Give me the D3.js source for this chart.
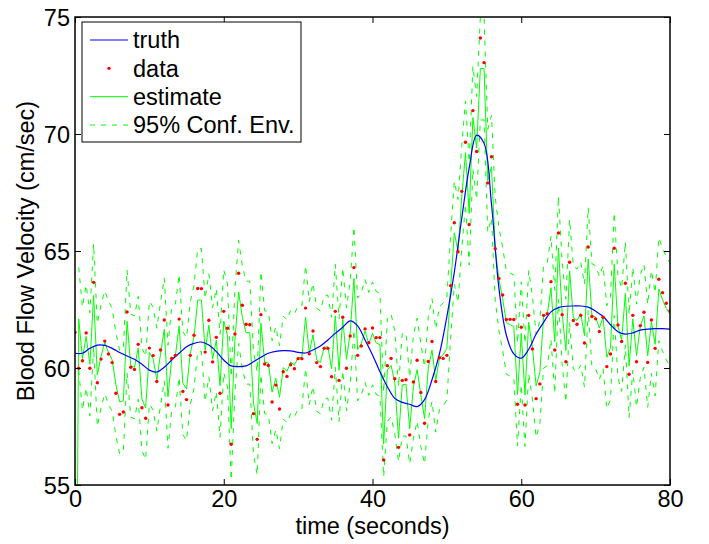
<!DOCTYPE html>
<html lang="en">
<head>
<meta charset="UTF-8">
<title>Blood flow velocity</title>
<script src="https://d3js.org/d3.v7.min.js"></script>
<style>
  body { margin: 0; background: #fff; }
  text { font-family: "Liberation Sans", Arial, Helvetica, sans-serif; fill: #000; }
</style>
</head>
<body>
<div id="chart"></div>
<script>
// samples every 0.5 s, truth every 1 s
var sampleTimes = d3.range(0, 80.5, 0.5)
var truthTimes = d3.range(0, 81, 1)

var truth = [60.63,60.63,60.84,60.98,60.97,60.84,60.66,60.51,60.37,60.16,
  59.91,59.83,60.03,60.34,60.63,60.91,61.05,61.11,60.98,60.70,
  60.34,60.09,60.06,60.09,60.27,60.46,60.63,60.71,60.74,60.73,
  60.67,60.64,60.77,60.94,61.20,61.48,61.74,62.01,61.80,61.20,
  60.56,59.84,59.20,58.70,58.53,58.45,58.35,58.65,59.50,60.60,
  62.20,64.10,66.40,68.55,69.95,69.60,67.00,63.40,61.40,60.60,
  60.42,60.80,61.45,61.95,62.40,62.58,62.64,62.65,62.65,62.60,
  62.43,62.20,61.85,61.55,61.45,61.50,61.62,61.66,61.68,61.68,61.66]

var measured = [61.53,59.99,60.31,61.50,59.99,63.66,59.37,60.38,61.15,60.60,
  60.23,58.92,58.02,58.12,62.39,60.03,59.94,61.01,58.30,57.85,
  60.85,60.53,59.42,60.77,62.05,58.42,60.41,60.54,62.09,59.00,
  58.65,60.54,61.40,63.40,63.39,60.68,62.04,60.26,61.31,58.92,
  62.42,61.70,56.74,61.45,64.05,62.68,61.87,61.85,58.05,56.95,
  62.28,60.17,60.11,58.55,59.27,58.25,59.84,59.64,60.14,59.97,
  60.40,60.40,62.56,60.61,61.58,60.23,60.06,60.84,60.84,59.63,
  62.42,59.47,62.17,59.99,61.37,64.29,60.54,60.94,61.67,61.08,
  61.71,61.30,61.30,56.07,60.10,60.41,59.54,56.61,59.47,59.50,
  57.14,59.40,60.33,58.95,57.64,60.28,61.13,59.42,60.44,60.41,
  60.54,63.52,66.21,64.97,67.55,69.65,66.13,71.00,69.25,74.10,
  73.05,67.91,69.03,65.10,63.83,63.12,62.07,62.08,62.07,58.45,
  61.74,58.42,62.25,60.81,58.69,59.32,62.25,62.32,63.69,60.77,
  65.77,62.28,60.27,64.52,62.03,61.87,62.25,61.07,65.17,62.20,
  62.10,61.56,62.17,60.06,60.60,65.12,61.84,61.13,63.62,59.73,
  62.25,60.27,61.81,62.38,60.24,62.05,60.84,63.79,63.22,62.77,62.45]

var estimate = [40.00,62.10,60.40,61.35,60.16,63.10,59.70,60.50,61.10,60.66,
  60.35,59.29,58.55,58.60,61.99,60.10,60.03,60.86,58.67,58.29,
  60.66,60.40,59.50,60.60,61.65,58.77,60.40,60.53,61.80,59.35,
  59.10,60.63,61.33,62.90,62.90,60.76,61.83,60.38,61.19,59.24,
  62.00,61.40,57.41,61.17,63.25,62.16,61.51,61.51,58.50,57.63,
  61.92,60.25,60.21,58.97,59.56,58.75,60.02,59.86,60.26,60.12,
  60.45,60.45,62.18,60.63,61.42,60.35,60.24,60.89,60.91,59.97,
  62.23,59.90,62.08,60.37,61.50,63.83,60.79,61.05,61.58,61.03,
  61.48,61.07,61.00,56.75,59.92,60.11,59.37,57.00,59.28,59.30,
  57.40,59.20,59.93,58.84,57.84,60.00,60.77,59.46,60.42,60.57,
  60.84,63.43,65.78,65.00,67.30,69.20,66.60,70.70,69.40,72.80,
  72.80,68.00,68.60,65.10,63.80,62.96,61.94,61.85,61.78,58.86,
  61.48,58.85,61.96,60.87,59.24,59.80,62.19,62.30,63.43,61.12,
  65.13,62.35,60.74,64.15,62.15,62.03,62.33,61.38,64.66,62.26,
  62.17,61.71,62.17,60.46,60.85,64.44,61.78,61.20,63.19,60.08,
  62.10,60.53,61.77,62.23,60.52,61.97,61.01,63.37,62.91,62.55,62.29]

var envUpper = [null,64.30,62.60,63.55,62.36,65.30,61.90,62.70,63.30,62.86,
  62.55,61.49,60.75,60.80,64.19,62.30,62.23,63.06,60.87,60.49,
  62.86,62.60,61.70,62.80,63.85,60.97,62.60,62.73,64.00,61.55,
  61.30,62.83,63.53,65.10,65.10,62.96,64.03,62.58,63.39,61.44,
  64.20,63.60,59.61,63.37,65.45,64.36,63.71,63.71,60.70,59.83,
  64.12,62.45,62.41,61.17,61.76,60.95,62.22,62.06,62.46,62.32,
  62.65,62.65,64.38,62.83,63.62,62.55,62.44,63.09,63.11,62.17,
  64.43,62.10,64.28,62.57,63.70,66.03,62.99,63.25,63.78,63.23,
  63.68,63.27,63.20,58.95,62.12,62.31,61.57,59.20,61.48,61.50,
  59.60,61.40,62.13,61.04,60.04,62.20,62.97,61.66,62.62,62.77,
  63.04,65.63,67.98,67.20,69.50,71.40,68.80,72.90,71.60,75.00,
  75.00,70.20,70.80,67.30,66.00,65.16,64.14,64.05,63.98,61.06,
  63.68,61.05,64.16,63.07,61.44,62.00,64.39,64.50,65.63,63.32,
  67.33,64.55,62.94,66.35,64.35,64.23,64.53,63.58,66.86,64.46,
  64.37,63.91,64.37,62.66,63.05,66.64,63.98,63.40,65.39,62.28,
  64.30,62.73,63.97,64.43,62.72,64.17,63.21,65.57,65.11,64.75,64.49]

var envLower = [null,59.90,58.20,59.15,57.96,60.90,57.50,58.30,58.90,58.46,
  58.15,57.09,56.35,56.40,59.79,57.90,57.83,58.66,56.47,56.09,
  58.46,58.20,57.30,58.40,59.45,56.57,58.20,58.33,59.60,57.15,
  56.90,58.43,59.13,60.70,60.70,58.56,59.63,58.18,58.99,57.04,
  59.80,59.20,55.21,58.97,61.05,59.96,59.31,59.31,56.30,55.43,
  59.72,58.05,58.01,56.77,57.36,56.55,57.82,57.66,58.06,57.92,
  58.25,58.25,59.98,58.43,59.22,58.15,58.04,58.69,58.71,57.77,
  60.03,57.70,59.88,58.17,59.30,61.63,58.59,58.85,59.38,58.83,
  59.28,58.87,58.80,55.35,57.72,57.91,57.17,56.00,57.08,57.10,
  55.90,57.00,57.73,56.64,55.90,57.80,58.57,57.26,58.22,58.37,
  58.64,61.23,63.58,62.80,65.10,67.00,64.40,68.50,67.20,70.60,
  70.60,65.80,66.40,62.90,61.60,60.76,59.74,59.65,59.58,56.66,
  59.28,56.65,59.76,58.67,57.04,57.60,59.99,60.10,61.23,58.92,
  62.93,60.15,58.54,61.95,59.95,59.83,60.13,59.18,62.46,60.06,
  59.97,59.51,59.97,58.26,58.65,62.24,59.58,59.00,60.99,57.88,
  59.90,58.33,59.57,60.03,58.32,59.77,58.81,61.17,60.71,60.35,60.09]

var xTicks = [0, 20, 40, 60, 80]
var yTicks = [55, 60, 65, 70, 75]
var legendLabels = ["truth", "data", "estimate", "95% Conf. Env."]

var width = 709, height = 544
var margin = {left: 75, right: 39, top: 17, bottom: 59}
var fontSize = 23.5

var svg = d3.select("#chart").append("svg")
    .attr("width", width)
    .attr("height", height)

var x = d3.scaleLinear().domain([0, 80]).range([margin.left, width - margin.right])
var y = d3.scaleLinear().domain([55, 75]).range([height - margin.bottom, margin.top])

svg.append("clipPath").attr("id", "plot-clip")
  .append("rect")
    .attr("x", x(0)).attr("y", y(75))
    .attr("width", x(80) - x(0)).attr("height", y(55) - y(75))

var plot = svg.append("g").attr("clip-path", "url(#plot-clip)")

var sampleLine = function(values) {
  return d3.line()
    .defined(function(d, i) { return values[i] != null })
    .x(function(d, i) { return x(sampleTimes[i]) })
    .y(function(d, i) { return y(values[i]) })(sampleTimes)
}

// estimate
plot.append("path")
    .attr("d", sampleLine(estimate))
    .attr("fill", "none")
    .attr("stroke", "#00ff00")
    .attr("stroke-width", 1)

// confidence envelope
;[envUpper, envLower].forEach(function(env) {
  plot.append("path")
      .attr("d", sampleLine(env))
      .attr("fill", "none")
      .attr("stroke", "#00ff00")
      .attr("stroke-width", 1)
      .attr("stroke-dasharray", "5,6")
})

// truth
plot.append("path")
    .datum(truthTimes)
    .attr("d", d3.line()
      .curve(d3.curveCatmullRom)
      .x(function(d) { return x(d) })
      .y(function(d, i) { return y(truth[i]) }))
    .attr("fill", "none")
    .attr("stroke", "#0000ff")
    .attr("stroke-width", 1.2)

// data points
plot.selectAll("circle.obs")
  .data(sampleTimes)
  .enter().append("circle")
    .attr("class", "obs")
    .attr("cx", function(d) { return x(d) })
    .attr("cy", function(d, i) { return y(measured[i]) })
    .attr("r", 1.7)
    .attr("fill", "#ff0000")

// axes: ticks point inward on all four sides
var axisB = d3.axisBottom(x).tickValues(xTicks).tickSizeInner(-6).tickSizeOuter(0).tickPadding(5)
var axisT = d3.axisTop(x).tickValues(xTicks).tickSizeInner(-6).tickSizeOuter(0).tickFormat("")
var axisL = d3.axisLeft(y).tickValues(yTicks).tickSizeInner(-6).tickSizeOuter(0).tickPadding(5)
var axisR = d3.axisRight(y).tickValues(yTicks).tickSizeInner(-6).tickSizeOuter(0).tickFormat("")

var gB = svg.append("g").attr("transform", "translate(0," + y(55) + ")").call(axisB)
var gT = svg.append("g").attr("transform", "translate(0," + y(75) + ")").call(axisT)
var gL = svg.append("g").attr("transform", "translate(" + x(0) + ",0)").call(axisL)
var gR = svg.append("g").attr("transform", "translate(" + x(80) + ",0)").call(axisR)

;[gB, gT, gL, gR].forEach(function(g) {
  g.select(".domain").remove()
  g.selectAll(".tick line").attr("stroke", "#000").attr("stroke-width", 1)
  g.selectAll(".tick text")
    .style("font-size", fontSize + "px")
    .style("font-family", "'Liberation Sans', Arial, Helvetica, sans-serif")
    .attr("fill", "#000")
})
gL.selectAll(".tick text").attr("dy", "0.36em")

svg.append("rect")
    .attr("x", x(0)).attr("y", y(75))
    .attr("width", x(80) - x(0)).attr("height", y(55) - y(75))
    .attr("fill", "none")
    .attr("stroke", "#000")
    .attr("stroke-width", 1.5)

// axis labels
svg.append("text")
    .attr("x", (x(0) + x(80)) / 2)
    .attr("y", 534)
    .attr("text-anchor", "middle")
    .style("font-size", fontSize + "px")
    .text("time (seconds)")

svg.append("text")
    .attr("transform", "translate(34," + ((y(55) + y(75)) / 2) + ") rotate(-90)")
    .attr("text-anchor", "middle")
    .style("font-size", fontSize + "px")
    .text("Blood Flow Velocity (cm/sec)")

// legend
var legend = svg.append("g").attr("transform", "translate(82,22)")
legend.append("rect")
    .attr("width", 219).attr("height", 120)
    .attr("fill", "#fff").attr("stroke", "#000").attr("stroke-width", 1)

var rowY = d3.scalePoint().domain(legendLabels).range([18, 103])

legend.append("line")
    .attr("x1", 8).attr("x2", 46)
    .attr("y1", rowY("truth")).attr("y2", rowY("truth"))
    .attr("stroke", "#0000ff").attr("stroke-width", 1.2)
legend.append("circle")
    .attr("cx", 27).attr("cy", rowY("data")).attr("r", 1.7)
    .attr("fill", "#ff0000")
legend.append("line")
    .attr("x1", 8).attr("x2", 46)
    .attr("y1", rowY("estimate")).attr("y2", rowY("estimate"))
    .attr("stroke", "#00ff00").attr("stroke-width", 1)
legend.append("line")
    .attr("x1", 8).attr("x2", 46)
    .attr("y1", rowY("95% Conf. Env.")).attr("y2", rowY("95% Conf. Env."))
    .attr("stroke", "#00ff00").attr("stroke-width", 1)
    .attr("stroke-dasharray", "5,6")

legend.selectAll("text.lbl")
  .data(legendLabels)
  .enter().append("text")
    .attr("class", "lbl")
    .attr("x", 51)
    .attr("y", function(d) { return rowY(d) })
    .attr("dy", "0.35em")
    .style("font-size", fontSize + "px")
    .text(function(d) { return d })
</script>
</body>
</html>
